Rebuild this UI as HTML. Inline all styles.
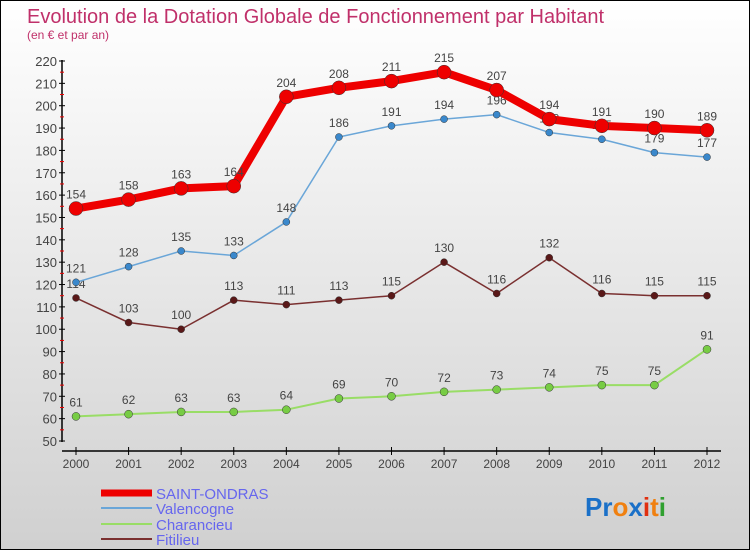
<!DOCTYPE html>
<html><head><meta charset="utf-8"><style>
body{margin:0;width:750px;height:550px;overflow:hidden;font-family:"Liberation Sans",sans-serif}
#wrap{position:relative;width:748px;height:548px;border:1px solid #000;background:linear-gradient(#ffffff,#d0d0d0)}
</style></head><body>
<div id="wrap">
<svg id="chart" width="748" height="548">
<text x="26" y="22" font-size="20" fill="#c0306a">Evolution de la Dotation Globale de Fonctionnement par Habitant</text>
<text x="26" y="38" font-size="12" fill="#c0306a">(en € et par an)</text>
<g id="axes"></g><g id="series"></g><g id="legend"></g>
<text x="584" y="515" font-size="26" font-weight="bold"><tspan fill="#1a70c8">Pr</tspan><tspan fill="#f08010">o</tspan><tspan fill="#1a70c8">x</tspan><tspan fill="#e03010">i</tspan><tspan fill="#f08010">t</tspan><tspan fill="#30a030">i</tspan></text>
</svg></div>
<script>
const years=[2000,2001,2002,2003,2004,2005,2006,2007,2008,2009,2010,2011,2012];
const yTicks=[50,60,70,80,90,100,110,120,130,140,150,160,170,180,190,200,210,220];
const saintOndras=[154,158,163,164,204,208,211,215,207,194,191,190,189];
const valencogne=[121,128,135,133,148,186,191,194,196,188,185,179,177];
const charancieu=[61,62,63,63,64,69,70,72,73,74,75,75,91];
const fitilieu=[114,103,100,113,111,113,115,130,116,132,116,115,115];
const NS="http://www.w3.org/2000/svg";
const x=i=>75+i*(706-75)/(years.length-1);
const y=v=>440-(v-50)*(380/170);
function mk(tag,attrs,parent){const e=document.createElementNS(NS,tag);for(const k in attrs)e.setAttribute(k,attrs[k]);parent.appendChild(e);return e;}
const ax=document.getElementById('axes');
let e=mk('line',{x1:61,y1:59,x2:61,y2:441,stroke:'#000','stroke-width':1.5},ax);


e=mk('line',{x1:61,y1:450,x2:720,y2:450,stroke:'#000','stroke-width':1.5},ax);


yTicks.forEach((v,i)=>{
 mk('line',{x1:58,y1:y(v),x2:64,y2:y(v),stroke:'#000'},ax);
 if(i<yTicks.length-1) mk('line',{x1:59,y1:y(v+5),x2:63,y2:y(v+5),stroke:'#e00'},ax);
 const t=mk('text',{x:56,y:y(v)+5,'font-size':13,fill:'#444','text-anchor':'end'},ax);t.textContent=v;
 
 
});
years.forEach((yr,i)=>{
 mk('line',{x1:x(i),y1:446,x2:x(i),y2:454,stroke:'#000'},ax);
 const t=mk('text',{x:x(i),y:467,'font-size':12,fill:'#444','text-anchor':'middle'},ax);t.textContent=yr;
 
 
});
const sg=document.getElementById('series');
function series(data,color,w,r,mfill,name){
 const g=mk('g',{},sg);
 
 
 const p=mk('polyline',{points:data.map((v,i)=>x(i)+','+y(v)).join(' '),fill:'none',stroke:color,'stroke-width':w,'stroke-linejoin':'round'},g);
 
 
 data.forEach((v,i)=>{
  const c=mk('circle',{cx:x(i),cy:y(v),r:r,fill:mfill,stroke:'#333','stroke-width':0.5},g);
  
  
  const t=mk('text',{x:x(i),y:y(v)-10,'font-size':12,fill:'#444','text-anchor':'middle'},g);t.textContent=v;
  
  
 });
}
series(charancieu,'#99dd66',2,4,'#77cc44','charancieu');
series(fitilieu,'#7a3030',1.5,3.5,'#5a1818','fitilieu');
series(valencogne,'#6aa6d8',1.5,3.5,'#3a88cc','valencogne');
series(saintOndras,'#ee0000',8,7,'#ee0000','saint-ondras');
const lg=document.getElementById('legend');
[['SAINT-ONDRAS','#ee0000',7,492],['Valencogne','#6aa6d8',2,507],['Charancieu','#99dd66',2,523],['Fitilieu','#7a3030',2,538]].forEach(([n,c,w,yy])=>{
 const g=mk('g',{},lg);
 
 
 mk('line',{x1:100,y1:yy,x2:151,y2:yy,stroke:c,'stroke-width':w},g);
 const t=mk('text',{x:155,y:yy+6,'font-size':15,fill:'#6666ee'},g);t.textContent=n;
});
</script>
</body></html>
